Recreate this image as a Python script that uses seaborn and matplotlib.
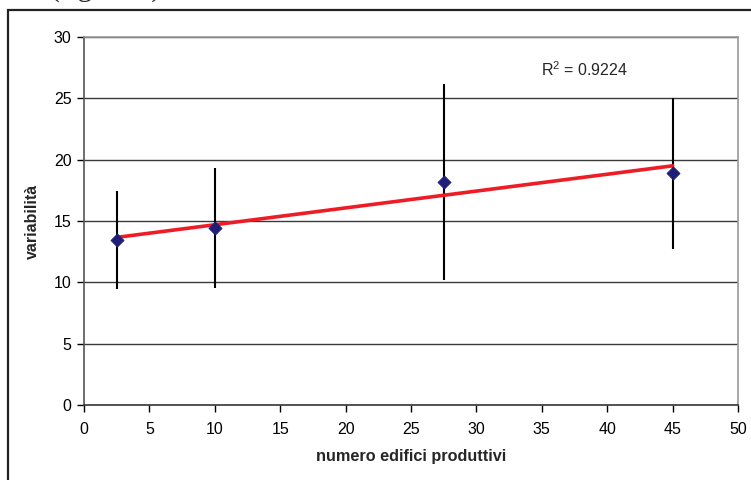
import matplotlib
matplotlib.use("Agg")
import matplotlib.pyplot as plt
from matplotlib.patches import Rectangle
import seaborn as sns
import pandas as pd

# values
edifici = [2.5, 10, 27.5, 45]
variabilita = [13.45, 14.4, 18.2, 18.9]
err_low = [9.45, 9.5, 10.2, 12.75]
err_high = [17.45, 19.3, 26.2, 25.0]
r2_label = "R$^2$ = 0.9224"

df = pd.DataFrame({"edifici": edifici, "variabilita": variabilita})

sns.set_theme(style="white")
plt.rcParams["font.family"] = ["Liberation Sans", "DejaVu Sans"]
plt.rcParams["mathtext.fontset"] = "custom"
plt.rcParams["mathtext.rm"] = "Liberation Sans"

fig = plt.figure(figsize=(7.51, 4.8), dpi=100)
ax = fig.add_axes([0.1119, 0.15625, 0.8708, 0.7667])

# outer frame and cut-off caption from the page
fig.patches.append(Rectangle((0.0107, -0.05), 1.1, 1.029, transform=fig.transFigure,
                             fill=False, edgecolor="#222222", linewidth=1.6))
fig.text(0.066, 1.006, "(figura 5)", family="Liberation Serif", fontsize=21,
         va="baseline", ha="left")

for yv in range(5, 31, 5):
    ax.axhline(yv, color="#3a3a3a", linewidth=1.0, zorder=0)

ax.vlines(edifici, err_low, err_high, color="black", linewidth=1.5, zorder=2)
sns.regplot(data=df, x="edifici", y="variabilita", scatter=False, ci=None, ax=ax,
            line_kws={"color": "#ee1c25", "linewidth": 2.6, "zorder": 3})
sns.scatterplot(data=df, x="edifici", y="variabilita", marker="D", s=45,
                color="#1f1f78", edgecolor="#1f1f78", ax=ax, zorder=4)

ax.text(34.9, 27.3, r2_label, fontsize=11.5, ha="left", va="center")

ax.set_xlim(0, 50)
ax.set_ylim(0, 30)
ax.set_xticks(range(0, 51, 5))
ax.set_yticks(range(0, 31, 5))
ax.tick_params(axis="both", direction="out", length=5, width=1, colors="black",
               labelsize=11.5, bottom=True, left=True, pad=4)
ax.tick_params(axis="x", pad=7)
ax.set_xlabel("numero edifici produttivi", fontsize=11.7, fontweight="bold", labelpad=9)
ax.set_ylabel("variabilità", fontsize=11.5, fontweight="bold", labelpad=10)

for side in ["top", "right"]:
    ax.spines[side].set_color("#999999")
    ax.spines[side].set_linewidth(1.2)
ax.spines["left"].set_color("#555555")
ax.spines["bottom"].set_color("#333333")
ax.spines["left"].set_linewidth(1.2)
ax.spines["bottom"].set_linewidth(1.2)

fig.savefig("out.png", dpi=100)
